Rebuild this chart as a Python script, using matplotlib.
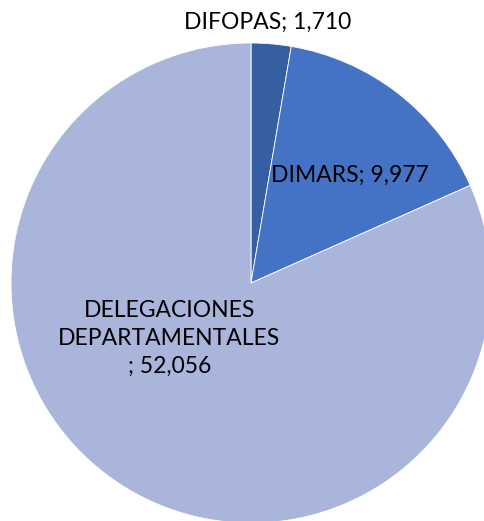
import matplotlib
matplotlib.use('Agg')
import matplotlib.pyplot as plt

labels = ['DIFOPAS', 'DIMARS', 'DELEGACIONES\nDEPARTAMENTALES\n']
values = [1710, 9977, 52056]
colors = ['#355EA3', '#4472C4', '#A9B5DA']

plt.rcParams['font.family'] = ['Lato', 'DejaVu Sans']

fig = plt.figure(figsize=(4.85, 5.21), dpi=100)
# pie centre at (251, 283) px, radius 240 px
cx, cy, r = 251, 283, 240
ax = fig.add_axes([(cx - r) / 485, (521 - cy - r) / 521, 2 * r / 485, 2 * r / 521])
wedges, _ = ax.pie(values, colors=colors, startangle=90, counterclock=False,
                   wedgeprops=dict(edgecolor='white', linewidth=0.6))
ax.set_xlim(-1, 1)
ax.set_ylim(-1, 1)
ax.set_aspect('equal')
ax.axis('off')

# label positions (in units of radius)
label_pos = [(0.07, 1.085), (0.41, 0.45), (-0.34, -0.23)]
for lab, v, (x, y) in zip(labels, values, label_pos):
    ax.text(x, y, f'{lab}; {v:,}', ha='center', va='center', fontsize=16.5,
            linespacing=1.42, clip_on=False)

fig.savefig('out.png', dpi=100)
